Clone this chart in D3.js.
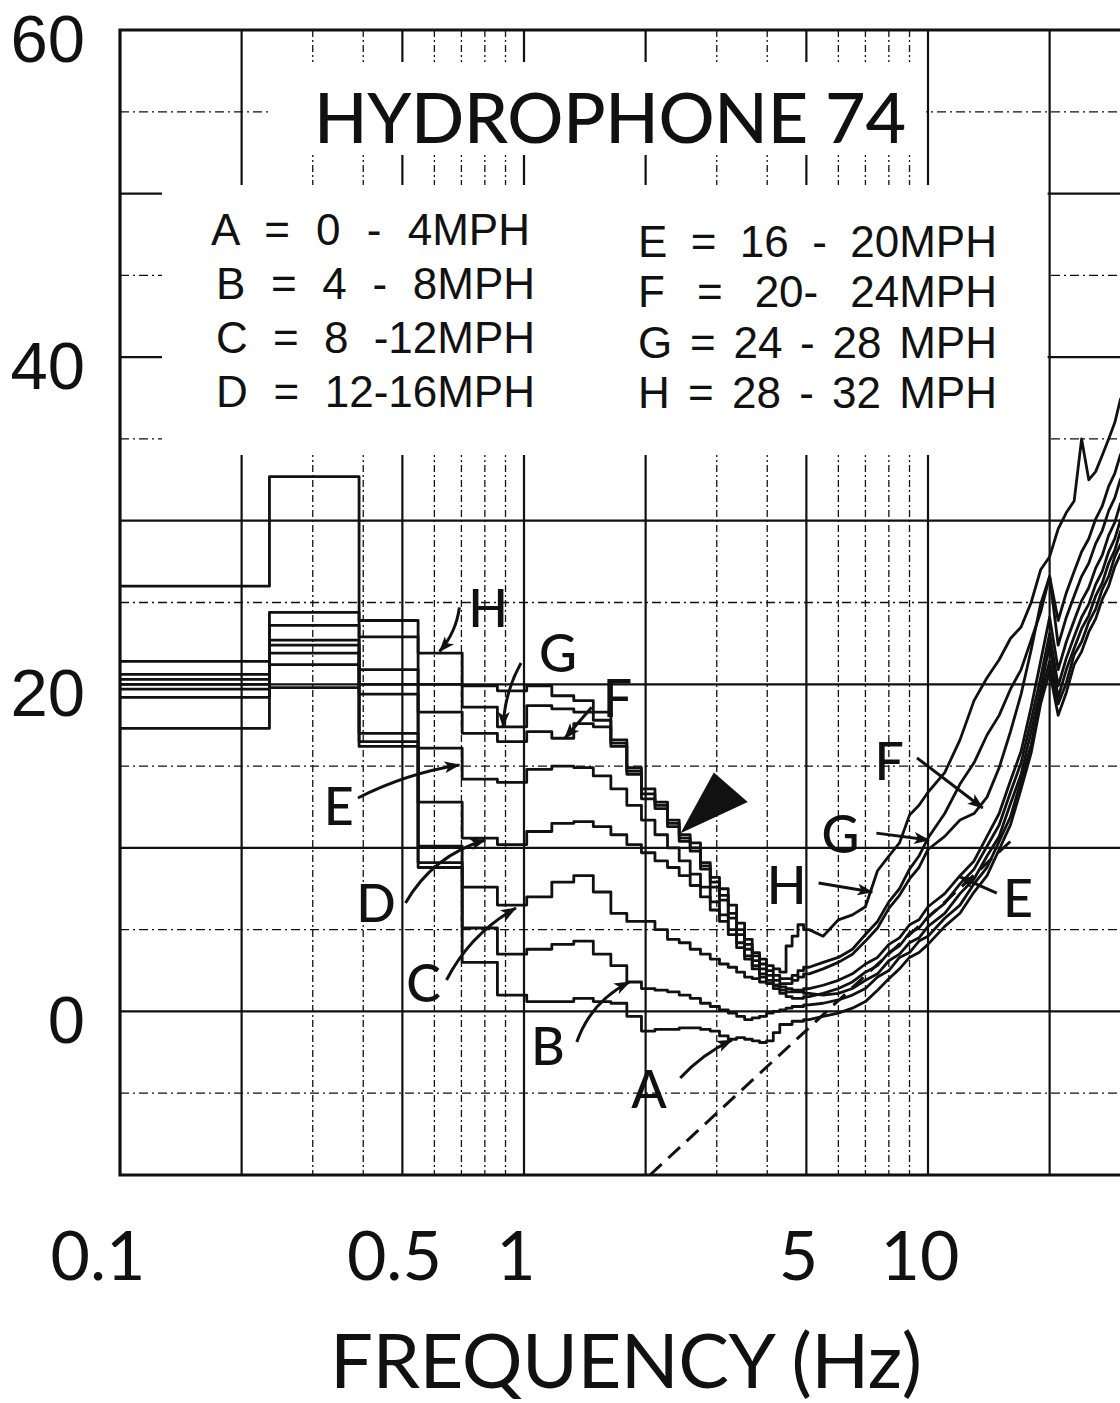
<!DOCTYPE html>
<html>
<head>
<meta charset="utf-8">
<script src="https://cdn.jsdelivr.net/npm/d3@7"></script>
<style>
  body { margin: 0; background: #fff; }
  svg { display: block; }
  text { font-family: Lato, "DejaVu Sans", sans-serif; fill: #111; }
</style>
</head>
<body>
<div id="chart"></div>
<script>
// ------------------------------------------------------------------------ //
// DATA
// ------------------------------------------------------------------------ //

// spectral resolution of the stepped (low frequency) part, Hz
const binWidth = 0.15625;

// level per frequency bin k = 1..32 (bin centre k * binWidth), dB
const lowA = [17.3, 19.8, 16.2, 8.8, 3.0, 1.0, 0.6, 0.6, 0.8, 0.6, 0.5, -0.3, -1.2, -1.1, -1.1, -1.0, -1.0, -1.1, -1.2, -1.5, -1.7, -1.6, -1.7, -1.8, -1.9, -1.8, -1.3, -0.8, -0.8, -0.6, -0.6, -0.5];
const lowB = [19.2, 21.2, 16.5, 9.1, 5.1, 3.5, 3.8, 4.1, 4.3, 3.5, 2.8, 1.8, 1.4, 1.3, 1.2, 1.0, 0.8, 0.5, 0.3, 0.1, -0.1, -0.3, -0.5, -0.4, -0.3, -0.1, 0.0, 0.1, 0.2, 0.3, 0.3, 0.4];
const lowC = [19.7, 21.9, 17.0, 10.1, 7.6, 6.5, 7.0, 7.9, 8.3, 7.3, 6.0, 5.5, 5.5, 5.0, 4.4, 4.2, 3.8, 3.5, 3.2, 2.9, 2.7, 2.4, 2.1, 2.0, 1.8, 1.7, 1.6, 1.5, 1.4, 1.3, 1.2, 1.1];
const lowD = [20.0, 22.4, 19.4, 12.8, 10.6, 10.2, 11.0, 11.5, 11.6, 11.3, 10.8, 10.2, 9.7, 9.2, 8.8, 8.3, 7.7, 7.0, 6.2, 5.5, 4.7, 3.9, 3.2, 2.6, 2.1, 1.7, 1.4, 1.1, 0.9, 0.8, 0.8, 0.9];
const lowE = [20.3, 22.7, 20.0, 16.1, 14.2, 14.0, 14.8, 15.0, 14.9, 14.4, 13.6, 12.6, 11.7, 10.8, 10.0, 9.2, 8.4, 7.6, 6.7, 5.9, 5.0, 4.2, 3.4, 2.8, 2.3, 1.9, 1.6, 1.3, 1.2, 1.2, 1.3, 1.4];
const lowF = [20.6, 23.6, 20.9, 18.3, 17.0, 16.5, 17.1, 16.7, 17.6, 17.4, 16.2, 14.5, 13.0, 12.4, 11.3, 10.4, 9.8, 8.7, 7.6, 6.8, 5.7, 4.7, 3.8, 3.1, 2.6, 2.2, 1.9, 1.7, 1.7, 1.9, 2.1, 2.3];
const lowG = [21.4, 24.4, 22.9, 20.0, 18.6, 17.4, 18.7, 18.5, 18.3, 17.8, 16.4, 14.7, 13.3, 12.6, 11.5, 10.6, 10.0, 8.9, 7.9, 7.1, 6.0, 5.0, 4.1, 3.4, 2.9, 2.5, 2.2, 2.0, 2.0, 2.2, 2.5, 2.7];
const lowH = [26.0, 32.7, 23.9, 21.9, 19.9, 19.6, 19.9, 19.3, 19.0, 18.3, 16.6, 14.9, 13.6, 12.8, 11.7, 10.8, 10.3, 9.1, 8.2, 7.5, 6.5, 5.4, 4.4, 3.6, 3.2, 2.8, 2.6, 2.4, 4.0, 4.6, 5.3, 5.0];

// high frequency part, read point by point
const hiFreq = [5.5, 6, 6.5, 7, 7.5, 8, 8.5, 9, 9.5, 10, 11, 12, 13, 14, 15, 16, 17, 18, 19, 20, 21, 22, 23, 24, 25, 26, 27, 28, 29, 30];
const hiA = [-0.3, -0.1, 0.2, 0.6, 1.3, 2.0, 2.6, 3.3, 3.6, 4.1, 5.2, 6.0, 7.3, 8.3, 9.9, 11.4, 13.6, 15.8, 18.8, 20.8, 18.1, 19.5, 21.2, 22.0, 23.2, 24.0, 25.2, 26.0, 27.2, 28.0];
const hiB = [0.5, 0.7, 1.0, 1.4, 2.1, 2.5, 3.3, 3.6, 4.3, 4.6, 5.7, 6.5, 7.8, 8.8, 10.4, 11.9, 14.1, 16.3, 19.3, 21.4, 18.8, 20.1, 21.8, 22.6, 23.8, 24.6, 25.8, 26.6, 27.8, 28.6];
const hiC = [1.0, 1.1, 1.4, 1.9, 2.3, 3.1, 3.5, 4.2, 4.5, 5.2, 6.0, 7.2, 8.1, 9.5, 10.7, 12.7, 14.5, 17.1, 19.7, 22.4, 19.2, 20.9, 22.2, 23.4, 24.2, 25.4, 26.2, 27.4, 28.2, 29.4];
const hiD = [1.1, 1.4, 1.8, 2.4, 2.8, 3.6, 4.0, 4.8, 5.1, 5.8, 6.6, 7.8, 8.7, 10.1, 11.4, 13.4, 15.2, 17.8, 20.4, 23.1, 19.9, 21.6, 22.9, 24.1, 24.9, 26.1, 26.9, 28.1, 28.9, 30.1];
const hiE = [1.6, 1.9, 2.3, 2.9, 3.3, 4.1, 4.5, 5.3, 5.6, 6.4, 7.2, 8.3, 9.2, 10.7, 12.1, 14.1, 15.9, 18.6, 21.4, 24.1, 20.9, 22.6, 23.9, 25.1, 25.9, 27.1, 27.9, 29.1, 29.9, 31.1];
const hiF = [2.6, 3.0, 3.5, 4.3, 5.1, 6.3, 7.1, 8.1, 8.8, 9.9, 10.7, 11.7, 12.1, 13.1, 14.9, 17.1, 19.4, 22.1, 24.9, 26.6, 22.4, 24.1, 25.4, 26.6, 27.4, 28.6, 29.4, 30.6, 31.4, 32.6];
const hiG = [3.0, 3.3, 3.8, 4.7, 5.5, 6.7, 7.5, 8.7, 9.5, 10.6, 12.1, 13.9, 15.2, 16.9, 18.1, 19.7, 20.9, 22.7, 24.4, 26.6, 23.9, 25.6, 26.9, 28.1, 28.9, 30.1, 30.9, 32.1, 32.9, 34.1];
const hiH = [4.6, 5.6, 5.9, 6.4, 8.6, 9.5, 10.3, 12.0, 12.6, 13.4, 14.6, 16.6, 19.0, 20.4, 21.5, 22.8, 23.5, 25.0, 27.0, 27.8, 29.5, 30.5, 31.2, 35.0, 32.5, 33.0, 34.0, 35.0, 36.0, 37.5];

const curveNames = ["A", "B", "C", "D", "E", "F", "G", "H"];
const lowLevels = [lowA, lowB, lowC, lowD, lowE, lowF, lowG, lowH];
const hiLevels = [hiA, hiB, hiC, hiD, hiE, hiF, hiG, hiH];

// straight dashed reference line: [frequency, dB]
const floorLine = [[2.05, -10], [16, 10.4]];

// tick labels
const yTickLabels = [0, 20, 40, 60];
const xTickLabels = [0.1, 0.5, 1, 5, 10];

// legend text
const titleText = "HYDROPHONE 74";
const legendLeft = ["A = 0 - 4MPH", "B = 4 - 8MPH", "C = 8 -12MPH", "D = 12-16MPH"];
const legendRight = ["E = 16 - 20MPH", "F = 20- 24MPH", "G = 24 - 28 MPH", "H = 28 - 32 MPH"];

// curve call-outs: letter at [f, dB], arrow from -> to, in [f, dB]
const callouts = [
  {t: "H", at: [0.815, 24.7], from: [0.692, 24.7], to: [0.618, 22.0], bend: -0.15},
  {t: "G", at: [1.213, 22.0], from: [0.983, 21.3], to: [0.888, 17.4], bend: 0.12},
  {t: "F", at: [1.704, 19.2], from: [1.471, 18.6], to: [1.262, 16.7], bend: 0.0},
  {t: "E", at: [0.348, 12.6], from: [0.388, 13.05], to: [0.692, 15.07], bend: -0.08},
  {t: "D", at: [0.430, 6.7], from: [0.509, 6.63], to: [0.802, 10.48], bend: -0.2},
  {t: "C", at: [0.564, 1.8], from: [0.643, 1.92], to: [0.955, 6.32], bend: -0.15},
  {t: "B", at: [1.146, -2.05], from: [1.351, -1.87], to: [1.824, 1.80], bend: -0.2},
  {t: "A", at: [2.04, -4.7], from: [2.436, -4.07], to: [3.27, -1.75], bend: -0.1},
  {t: "H", at: [4.47, 7.8], from: [5.36, 7.85], to: [7.28, 7.30], bend: 0.0},
  {t: "G", at: [6.07, 10.9], from: [7.45, 10.9], to: [10.06, 10.48], bend: 0.0},
  {t: "F", at: [8.02, 15.4], from: [9.39, 15.5], to: [13.66, 12.44], bend: 0.0},
  {t: "E", at: [16.7, 7.0], from: [14.8, 7.24], to: [11.99, 8.22], bend: 0.0}
];

// black pointer triangle, [f, dB]
const pointer = [[2.95, 14.6], [3.58, 12.8], [2.44, 10.9]];


// ------------------------------------------------------------------------ //
// SVG AREA
// ------------------------------------------------------------------------ //

const W = 1120, H = 1403;

const svg = d3.select("#chart")
  .append("svg")
    .attr("width", W)
    .attr("height", H);

// frequency axis: log, one decade = 404 px
const x = d3.scaleLog()
  .domain([0.1, 30])
  .range([120, 120 + 404 * Math.log10(300)]);

const y = d3.scaleLinear()
  .domain([-10, 60])
  .range([1175, 30]);

svg.append("defs").append("clipPath")
    .attr("id", "plotClip")
  .append("rect")
    .attr("x", x(0.1))
    .attr("y", y(60))
    .attr("width", W - x(0.1))
    .attr("height", y(-10) - y(60));

svg.select("defs").append("marker")
    .attr("id", "head")
    .attr("viewBox", "0 0 16 12")
    .attr("refX", 15)
    .attr("refY", 6)
    .attr("markerWidth", 16)
    .attr("markerHeight", 12)
    .attr("markerUnits", "userSpaceOnUse")
    .attr("orient", "auto")
  .append("path")
    .attr("d", "M0,0 L16,6 L0,12 L4,6 Z")
    .style("fill", "#111");


// ------------------------------------------------------------------------ //
// GRID (graph paper)
// ------------------------------------------------------------------------ //

const grid = svg.append("g").attr("clip-path", "url(#plotClip)");

const decades = [0.1, 1, 10];
const vLines = [];
decades.forEach(function(d) {
  d3.range(1, 10).forEach(function(m) {
    const f = +(m * d).toPrecision(3);
    if (f > 0.1 && f <= 30) vLines.push({f: f, major: [1, 2, 5].includes(m)});
  });
});

grid.selectAll(".vgrid")
  .data(vLines)
  .enter()
  .append("line")
    .attr("class", "vgrid")
    .attr("x1", d => x(d.f))
    .attr("x2", d => x(d.f))
    .attr("y1", y(60))
    .attr("y2", y(-10))
    .style("stroke", "#111")
    .style("stroke-width", d => d.major ? 2.2 : 1.3)
    .style("stroke-dasharray", d => d.major ? null : "7,3,2,3");

const hLines = d3.range(-5, 60, 5).map(v => ({v: v, major: v % 10 === 0}));

grid.selectAll(".hgrid")
  .data(hLines)
  .enter()
  .append("line")
    .attr("class", "hgrid")
    .attr("x1", x(0.1))
    .attr("x2", W)
    .attr("y1", d => y(d.v))
    .attr("y2", d => y(d.v))
    .style("stroke", "#111")
    .style("stroke-width", d => d.major ? 2.2 : 1.3)
    .style("stroke-dasharray", d => d.major ? null : "9,4,2,4");

// blank areas of the paper behind the title and the legend
grid.append("rect")
    .attr("x", 268).attr("y", 62)
    .attr("width", x(10) - 2 - 268).attr("height", 93)
    .style("fill", "#fff");
grid.append("rect")
    .attr("x", 162).attr("y", 185)
    .attr("width", x(20) - 2 - 162).attr("height", 270)
    .style("fill", "#fff");

// frame: top, left, bottom
svg.append("path")
    .attr("d", "M" + W + "," + y(60) + " H" + x(0.1) + " V" + y(-10) + " H" + W)
    .style("fill", "none")
    .style("stroke", "#111")
    .style("stroke-width", 3.2);


// ------------------------------------------------------------------------ //
// CURVES
// ------------------------------------------------------------------------ //

function curvePoints(low, hi) {
  const pts = [];
  low.forEach(function(v, i) {
    const k = i + 1;
    const f0 = i === 0 ? 0.1 : (k - 0.5) * binWidth;
    const f1 = (k + 0.5) * binWidth;
    pts.push([f0, v], [f1, v]);
  });
  hiFreq.forEach(function(f, i) { pts.push([f, hi[i]]); });
  return pts;
}

const line = d3.line()
  .x(d => x(d[0]))
  .y(d => y(d[1]));

const curves = svg.append("g").attr("clip-path", "url(#plotClip)");

curves.selectAll(".spec")
  .data(curveNames.map((n, i) => ({name: n, pts: curvePoints(lowLevels[i], hiLevels[i])})))
  .enter()
  .append("path")
    .attr("class", "spec")
    .attr("d", d => line(d.pts))
    .style("fill", "none")
    .style("stroke", "#111")
    .style("stroke-width", 2.8)
    .style("stroke-linejoin", "round");

curves.append("path")
    .attr("d", line(floorLine))
    .style("fill", "none")
    .style("stroke", "#111")
    .style("stroke-width", 3)
    .style("stroke-dasharray", "16,9");


// ------------------------------------------------------------------------ //
// CALL-OUTS
// ------------------------------------------------------------------------ //

const notes = svg.append("g");

function arrowPath(d) {
  const x0 = x(d.from[0]), y0 = y(d.from[1]);
  const x1 = x(d.to[0]), y1 = y(d.to[1]);
  const mx = (x0 + x1) / 2, my = (y0 + y1) / 2;
  const dx = x1 - x0, dy = y1 - y0;
  const cx = mx - dy * d.bend, cy = my + dx * d.bend;
  return "M" + x0 + "," + y0 + " Q" + cx + "," + cy + " " + x1 + "," + y1;
}

notes.selectAll(".arrow")
  .data(callouts)
  .enter()
  .append("path")
    .attr("class", "arrow")
    .attr("d", arrowPath)
    .style("fill", "none")
    .style("stroke", "#111")
    .style("stroke-width", 3)
    .attr("marker-end", "url(#head)");

notes.selectAll(".letter")
  .data(callouts)
  .enter()
  .append("text")
    .attr("class", "letter")
    .attr("x", d => x(d.at[0]))
    .attr("y", d => y(d.at[1]))
    .attr("text-anchor", "middle")
    .attr("dominant-baseline", "central")
    .style("font-size", "52px")
    .style("font-weight", 500)
    .text(d => d.t);

notes.append("path")
    .attr("d", d3.line().x(d => x(d[0])).y(d => y(d[1]))(pointer) + "Z")
    .style("fill", "#111");


// ------------------------------------------------------------------------ //
// TITLE AND LEGEND
// ------------------------------------------------------------------------ //

svg.append("text")
    .attr("x", 314)
    .attr("y", 143)
    .attr("textLength", 592)
    .attr("lengthAdjust", "spacing")
    .style("font-size", "70px")
    .style("font-weight", 500)
    .text(titleText);

// stretch only the blanks of a legend row so that it spans `width`
function fitBlanks(sel, width) {
  sel.each(function() {
    const nat = this.getComputedTextLength();
    const blanks = (this.textContent.match(/ /g) || []).length;
    if (blanks > 0) this.style.wordSpacing = ((width - nat) / blanks) + "px";
  });
}

// legend rows: a sans with compact line metrics so rows do not collide
svg.selectAll(".legL")
  .data(legendLeft)
  .enter()
  .append("text")
    .attr("class", "legL")
    .attr("x", (d, i) => i === 0 ? 211 : 216)
    .attr("y", (d, i) => 245 + i * 54)
    .style("font-family", "'Liberation Sans', Arial, sans-serif")
    .style("font-size", "44px")
    .text(d => d)
    .call(fitBlanks, 319);

svg.selectAll(".legR")
  .data(legendRight)
  .enter()
  .append("text")
    .attr("class", "legR")
    .attr("x", 638)
    .attr("y", (d, i) => 257 + i * 50.4)
    .style("font-family", "'Liberation Sans', Arial, sans-serif")
    .style("font-size", "44px")
    .text(d => d)
    .call(fitBlanks, 359);


// ------------------------------------------------------------------------ //
// AXIS LABELS
// ------------------------------------------------------------------------ //

svg.selectAll(".ylab")
  .data(yTickLabels)
  .enter()
  .append("text")
    .attr("class", "ylab")
    .attr("x", 85)
    .attr("y", d => y(d) + 32)
    .attr("text-anchor", "end")
    .style("font-family", "'Liberation Sans', Arial, sans-serif")
    .style("font-size", "67px")
    .text(d => d);

svg.selectAll(".xlab")
  .data(xTickLabels)
  .enter()
  .append("text")
    .attr("class", "xlab")
    .attr("x", d => x(d) - (d < 0.2 ? 22 : 8))
    .attr("y", 1280)
    .attr("text-anchor", "middle")
    .style("font-size", "68px")
    .text(d => d);

svg.append("text")
    .attr("x", 330)
    .attr("y", 1388)
    .attr("textLength", 592)
    .attr("lengthAdjust", "spacing")
    .style("font-size", "76px")
    .text("FREQUENCY (Hz)");
</script>
</body>
</html>
